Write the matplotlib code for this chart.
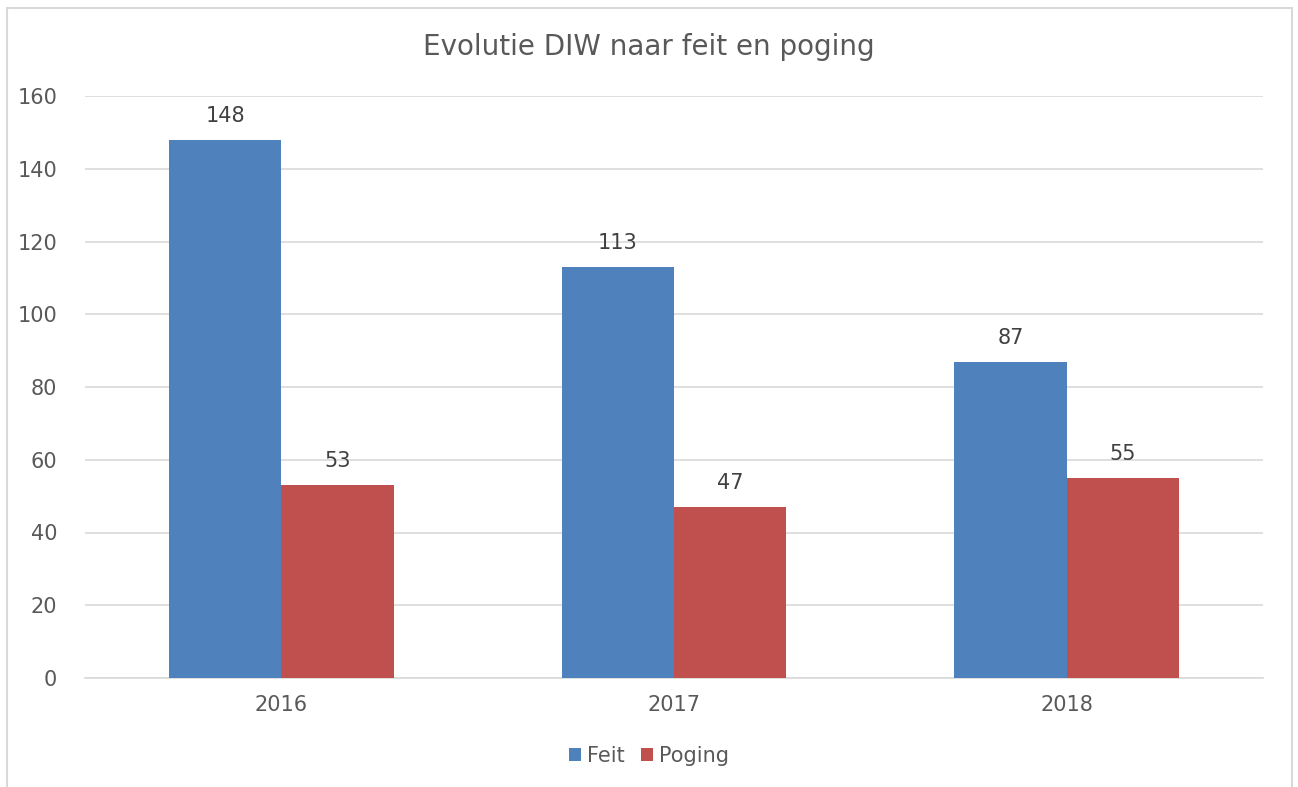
import numpy as np
import matplotlib
matplotlib.use('Agg')
import matplotlib.pyplot as plt
from matplotlib.patches import Rectangle

years = ['2016', '2017', '2018']
feit = [148, 113, 87]
poging = [53, 47, 55]

blue = '#4F81BD'
red = '#C0504D'
txt = '#595959'

plt.rcParams['font.family'] = ['DejaVu Sans']

fig = plt.figure(figsize=(12.98, 7.87), dpi=100)
# chart border
fig.patches.append(Rectangle((7 / 1298, -0.05), (1292 - 7) / 1298, 1 - 8 / 787 + 0.05,
                             transform=fig.transFigure, fill=False,
                             edgecolor='#D9D9D9', linewidth=1.5))

ax = fig.add_axes([85 / 1298, 1 - 678 / 787, (1263 - 85) / 1298, (678 - 96) / 787])

x = np.arange(len(years))
w = 1 / 3.5
b1 = ax.bar(x - w / 2, feit, w, color=blue, label='Feit', zorder=3)
b2 = ax.bar(x + w / 2, poging, w, color=red, label='Poging', zorder=3)

for bars in (b1, b2):
    for r in bars:
        ax.annotate(str(int(r.get_height())), (r.get_x() + r.get_width() / 2, r.get_height()),
                    xytext=(0, 10), textcoords='offset points', ha='center', va='bottom',
                    fontsize=15, color='#404040')

ax.set_xlim(-0.5, 2.5)
ax.set_ylim(0, 160)
ax.set_yticks(range(0, 161, 20))
ax.set_xticks(x)
ax.set_xticklabels(years)
ax.yaxis.grid(True, color='#D9D9D9', linewidth=1.2, zorder=0)
for s in ['top', 'right', 'left']:
    ax.spines[s].set_visible(False)
ax.spines['bottom'].set_color('#D9D9D9')
ax.spines['bottom'].set_linewidth(1.2)
ax.tick_params(axis='both', length=0, labelsize=15, colors=txt)
ax.tick_params(axis='y', pad=20)
ax.tick_params(axis='x', pad=12)

fig.text(0.5, 1 - 47 / 787, 'Evolutie DIW naar feit en poging', ha='center', va='center',
         fontsize=20, color=txt)

fig.legend(handles=[b1, b2], loc='center', bbox_to_anchor=(0.5, 1 - 756 / 787), ncol=2,
           frameon=False, fontsize=15, labelcolor=txt, handlelength=0.55, handleheight=0.55,
           handletextpad=0.3, columnspacing=0.8)

fig.savefig('out.png', dpi=100)
